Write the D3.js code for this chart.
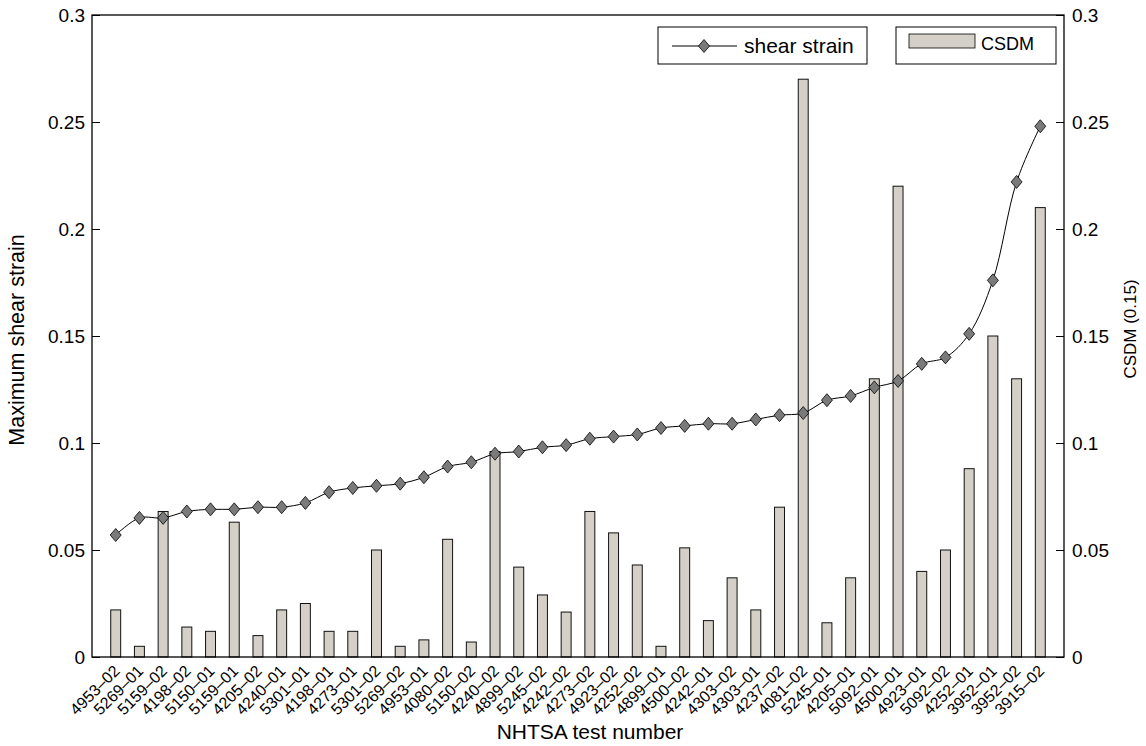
<!DOCTYPE html>
<html>
<head>
<meta charset="utf-8">
<script src="https://cdn.jsdelivr.net/npm/d3@7"></script>
<style>
  body { margin: 0; background: #fff; }
  svg { font-family: "Liberation Sans", Arial, sans-serif; }
</style>
</head>
<body>
<svg id="chart" width="1146" height="746"></svg>
<script>
// test numbers, sorted by shear strain
const tests = ["4953\u201302", "5269\u201301", "5159\u201302", "4198\u201302", "5150\u201301", "5159\u201301",
  "4205\u201302", "4240\u201301", "5301\u201301", "4198\u201301", "4273\u201301", "5301\u201302", "5269\u201302",
  "4953\u201301", "4080\u201302", "5150\u201302", "4240\u201302", "4899\u201302", "5245\u201302", "4242\u201302",
  "4273\u201302", "4923\u201302", "4252\u201302", "4899\u201301", "4500\u201302", "4242\u201301", "4303\u201302",
  "4303\u201301", "4237\u201302", "4081\u201302", "5245\u201301", "4205\u201301", "5092\u201301", "4500\u201301",
  "4923\u201301", "5092\u201302", "4252\u201301", "3952\u201301", "3952\u201302", "3915\u201302"];

const shearStrain = [0.057, 0.065, 0.065, 0.068, 0.069, 0.069, 0.070, 0.070, 0.072, 0.077,
  0.079, 0.080, 0.081, 0.084, 0.089, 0.091, 0.095, 0.096, 0.098, 0.099,
  0.102, 0.103, 0.104, 0.107, 0.108, 0.109, 0.109, 0.111, 0.113, 0.114,
  0.120, 0.122, 0.126, 0.129, 0.137, 0.140, 0.151, 0.176, 0.222, 0.248];

const csdm = [0.022, 0.005, 0.068, 0.014, 0.012, 0.063, 0.010, 0.022, 0.025, 0.012,
  0.012, 0.050, 0.005, 0.008, 0.055, 0.007, 0.096, 0.042, 0.029, 0.021,
  0.068, 0.058, 0.043, 0.005, 0.051, 0.017, 0.037, 0.022, 0.070, 0.270,
  0.016, 0.037, 0.130, 0.220, 0.040, 0.050, 0.088, 0.150, 0.130, 0.210];

const yTicks = [0, 0.05, 0.1, 0.15, 0.2, 0.25, 0.3];

const svg = d3.select("#chart");
const margin = { left: 92, top: 15, right: 82, bottom: 89 };
const width = 1146 - margin.left - margin.right;
const height = 746 - margin.top - margin.bottom;

const g = svg.append("g").attr("transform", `translate(${margin.left},${margin.top})`);

// x is numeric 0..41 like matlab bar positions 1..40
const x = d3.scaleLinear().domain([0, tests.length + 1]).range([0, width]);
const yL = d3.scaleLinear().domain([0, 0.3]).range([height, 0]);
const yR = d3.scaleLinear().domain([0, 0.3]).range([height, 0]);

const step = x(1) - x(0);
const barW = step * 0.42;

// bars (CSDM, right axis)
g.append("g")
  .selectAll("rect")
  .data(csdm)
  .join("rect")
  .attr("x", (d, i) => x(i + 1) - barW / 2)
  .attr("y", d => yR(d))
  .attr("width", barW)
  .attr("height", d => height - yR(d))
  .attr("fill", "#d4d0c8")
  .attr("stroke", "#111")
  .attr("stroke-width", 1);

// shear strain line
const line = d3.line()
  .x((d, i) => x(i + 1))
  .y(d => yL(d))
  .curve(d3.curveCatmullRom);

g.append("path")
  .datum(shearStrain)
  .attr("d", line)
  .attr("fill", "none")
  .attr("stroke", "#000")
  .attr("stroke-width", 1);

const diamond = "M0,-6.5L5.5,0L0,6.5L-5.5,0Z";
g.append("g")
  .selectAll("path")
  .data(shearStrain)
  .join("path")
  .attr("transform", (d, i) => `translate(${x(i + 1)},${yL(d)})`)
  .attr("d", diamond)
  .attr("fill", "#7a7a7a")
  .attr("stroke", "#000")
  .attr("stroke-width", 0.8);

// frame
g.append("rect")
  .attr("width", width)
  .attr("height", height)
  .attr("fill", "none")
  .attr("stroke", "#000")
  .attr("stroke-width", 1.3);

// left axis
const leftAx = g.append("g")
  .call(d3.axisLeft(yL).tickValues(yTicks).tickFormat(d3.format("")).tickSizeInner(-8).tickSizeOuter(0).tickPadding(7));
leftAx.select(".domain").remove();
leftAx.selectAll("text").attr("font-size", 19).attr("fill", "#000").attr("font-family", "Liberation Sans, Arial, sans-serif");
leftAx.selectAll("line").attr("stroke", "#000");

// right axis
const rightAx = g.append("g")
  .attr("transform", `translate(${width},0)`)
  .call(d3.axisRight(yR).tickValues(yTicks).tickFormat(d3.format("")).tickSizeInner(-8).tickSizeOuter(0).tickPadding(8));
rightAx.select(".domain").remove();
rightAx.selectAll("text").attr("font-size", 19).attr("fill", "#000").attr("font-family", "Liberation Sans, Arial, sans-serif");
rightAx.selectAll("line").attr("stroke", "#000");

// x tick labels, rotated
g.append("g")
  .selectAll("text")
  .data(tests)
  .join("text")
  .attr("transform", (d, i) => `translate(${x(i + 1) + 1},${height + 11}) rotate(-45)`)
  .attr("text-anchor", "end")
  .attr("dy", "0.35em")
  .attr("font-size", 16)
  .text(d => d);

// axis titles
svg.append("text")
  .attr("x", 590)
  .attr("y", 739)
  .attr("text-anchor", "middle")
  .attr("font-size", 21)
  .text("NHTSA test number");

svg.append("text")
  .attr("transform", `translate(24,340) rotate(-90)`)
  .attr("text-anchor", "middle")
  .attr("font-size", 21.5)
  .text("Maximum shear strain");

svg.append("text")
  .attr("transform", `translate(1136,329) rotate(-90)`)
  .attr("text-anchor", "middle")
  .attr("font-size", 17)
  .text("CSDM (0.15)");

// legends
const lg1 = svg.append("g");
lg1.append("rect").attr("x", 658).attr("y", 27).attr("width", 209).attr("height", 37)
  .attr("fill", "#fff").attr("stroke", "#000");
lg1.append("line").attr("x1", 672).attr("x2", 737).attr("y1", 46).attr("y2", 46)
  .attr("stroke", "#000");
lg1.append("path").attr("transform", "translate(704,46)").attr("d", diamond)
  .attr("fill", "#7a7a7a").attr("stroke", "#000").attr("stroke-width", 0.8);
lg1.append("text").attr("x", 744).attr("y", 53).attr("font-size", 21).text("shear strain");

const lg2 = svg.append("g");
lg2.append("rect").attr("x", 896).attr("y", 27).attr("width", 160).attr("height", 37)
  .attr("fill", "#fff").attr("stroke", "#000");
lg2.append("rect").attr("x", 909).attr("y", 34).attr("width", 66).attr("height", 14)
  .attr("fill", "#d4d0c8").attr("stroke", "#000").attr("stroke-width", 0.8);
lg2.append("text").attr("x", 981).attr("y", 50).attr("font-size", 18).text("CSDM");
</script>
</body>
</html>
